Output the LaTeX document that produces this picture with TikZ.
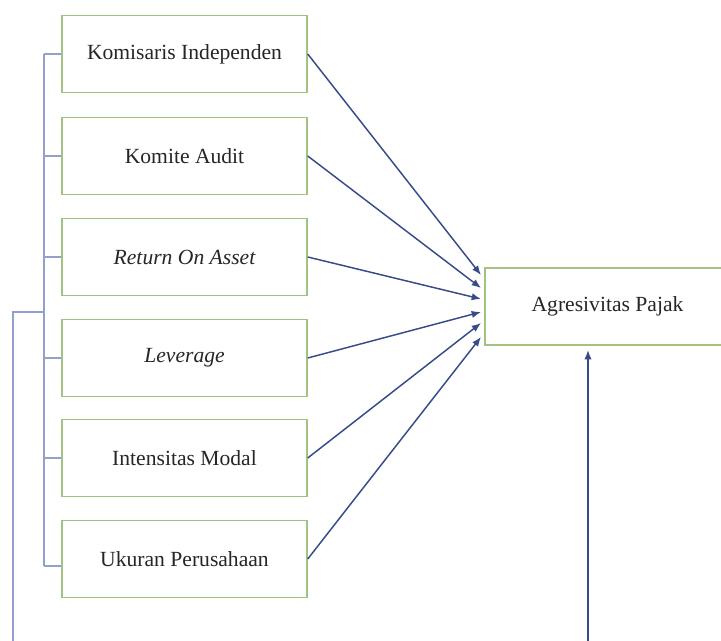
\documentclass[tikz,border=0pt]{standalone}
\usepackage{fontspec}
\setmainfont{Liberation Serif}
\usetikzlibrary{arrows, arrows.meta, positioning, calc}
\definecolor{boxgreen}{RGB}{160,195,130}
\definecolor{arrowblue}{RGB}{55,75,135}
\definecolor{linkblue}{RGB}{145,160,205}
\tikzset{
  varbox/.style={draw=boxgreen, line width=1.1pt, minimum width=183.75pt, minimum height=57.75pt, inner sep=0pt, text=black!85, font=\fontsize{16.2}{19}\selectfont},
  link/.style={draw=linkblue, line width=1.1pt},
  infl/.style={draw=arrowblue, line width=1.1pt, -{Latex[length=7pt,width=5.5pt]}}
}
\begin{document}
\begin{tikzpicture}[x=0.75pt,y=-0.75pt]
\clip (0,0) rectangle (721,641);
\fill[white] (0,0) rectangle (721,641);

% Variables
\node[varbox] (ki) at (184.5,54) {Komisaris Independen};
\node[varbox] (ka) at (184.5,156) {Komite Audit};
\node[varbox] (roa) at (184.5,257) {\itshape Return On Asset};
\node[varbox] (lev) at (184.5,358) {\itshape Leverage};
\node[varbox] (im) at (184.5,458) {Intensitas Modal};
\node[varbox] (up) at (184.5,559) {Ukuran Perusahaan};
\node[varbox] (ap) at (607.5,306.5) {Agresivitas Pajak};

% Arrow ends
\coordinate (t1) at (481,275);
\coordinate (t2) at (481,288);
\coordinate (t3) at (481,299);
\coordinate (t4) at (481,312);
\coordinate (t5) at (481,323);
\coordinate (t6) at (481,337);

% Partial effects
\draw[infl] (ki.east) -- (t1);
\draw[infl] (ka.east) -- (t2);
\draw[infl] (roa.east) -- (t3);
\draw[infl] (lev.east) -- (t4);
\draw[infl] (im.east) -- (t5);
\draw[infl] (up.east) -- (t6);

% Bracket
\coordinate (btop) at (44,54);
\coordinate (bbot) at (44,566);
\coordinate (bmid) at (44,312);
\draw[link] (btop) -- (bbot);
\foreach \v in {ki,ka,roa,lev,im}
  \draw[link] (\v.west -| btop) -- (\v.west);
\draw[link] (bbot) -- (bbot -| up.west);

% Simultaneous effect
\coordinate (outer) at (13,312);
\coordinate (down) at (13,670);
\coordinate (rise) at (588,670);
\coordinate (aim) at (588,350);
\draw[link] (bmid) -- (outer) -- (down);
\draw[infl] (rise) -- (aim);
\end{tikzpicture}
\end{document}
